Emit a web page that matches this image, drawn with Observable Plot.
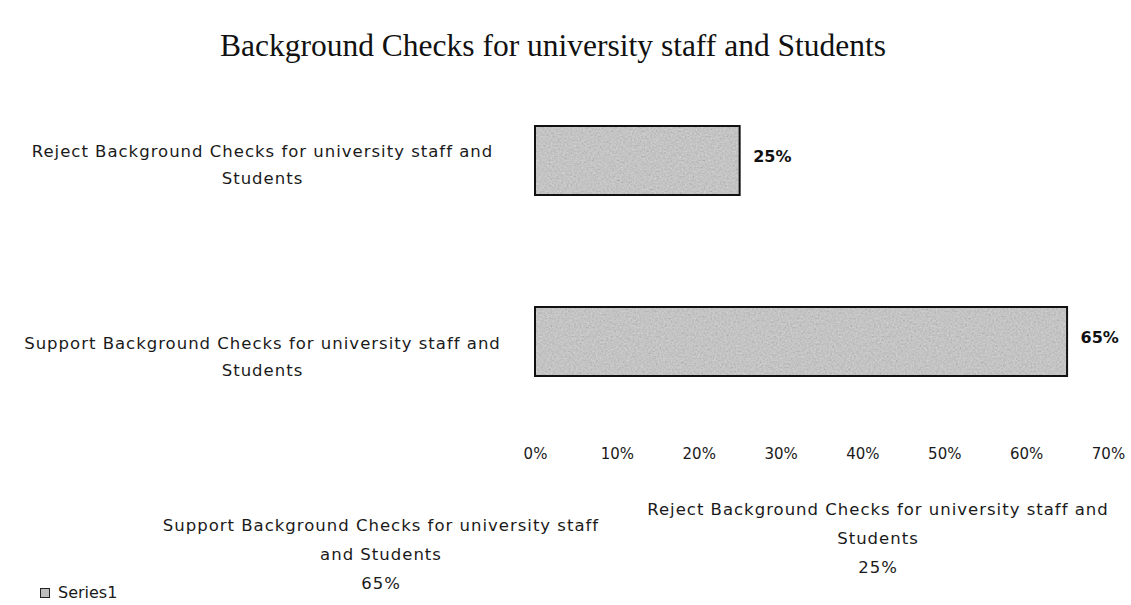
<!DOCTYPE html>
<html>
<head>
<meta charset="utf-8">
<script src="https://cdn.jsdelivr.net/npm/d3@7"></script>
<script src="https://cdn.jsdelivr.net/npm/@observablehq/plot@0.6"></script>
<style>
  html, body { margin: 0; padding: 0; background: #fff; }
  #wrap { position: relative; width: 1131px; height: 605px; overflow: hidden; font-family: "DejaVu Sans", sans-serif; color: #1a1a1a; }
  #title { position: absolute; left: 0; top: 28px; width: 1106px; text-align: center; font-family: "Liberation Serif", "DejaVu Serif", serif; font-size: 31.5px; line-height: 36px; color: #111; }
  #chart { position: absolute; left: 0; top: 60px; }
  #chart g[aria-label="y-axis tick label"] text { letter-spacing: 1px; }
  .cap { position: absolute; text-align: center; font-size: 16.5px; letter-spacing: 1px; line-height: 29px; color: #1a1a1a; }
  #legend { position: absolute; left: 40px; top: 583px; font-size: 16px; line-height: 20px; display: flex; align-items: center; }
  #legend .sw { width: 8px; height: 8px; background: #bdbdbd; border: 1.5px solid #222; margin-right: 8px; }
</style>
</head>
<body>
<div id="wrap">
  <div id="title"></div>
  <div id="chart"></div>
  <div class="cap" id="capSupport" style="left:111px; top:511px; width:540px;"></div>
  <div class="cap" id="capReject" style="left:608px; top:495px; width:540px;"></div>
  <div id="legend"><span class="sw"></span><span id="legendText"></span></div>
</div>
<script>
// ---- data ----
const title = "Background Checks for university staff and Students";
const categories = [
  "Reject Background Checks for university staff and Students",
  "Support Background Checks for university staff and Students"
];
const yTickLabels = [
  "Reject Background Checks for university staff and\nStudents",
  "Support Background Checks for university staff and\nStudents"
];
const values = [25, 65];               // percent
const xTicks = [0, 10, 20, 30, 40, 50, 60, 70];
const xTickLabels = ["0%", "10%", "20%", "30%", "40%", "50%", "60%", "70%"];
const seriesName = "Series1";
const bottomLabels = [
  "Support Background Checks for university staff<br>and Students<br>65%",
  "Reject Background Checks for university staff and<br>Students<br>25%"
];

// ---- build ----
const data = categories.map((c, i) => ({category: c, value: values[i]}));
const yLabelMap = new Map(categories.map((c, i) => [c, yTickLabels[i]]));
const xLabelMap = new Map(xTicks.map((t, i) => [t, xTickLabels[i]]));

document.getElementById("title").textContent = title;
document.getElementById("capSupport").innerHTML = bottomLabels[0];
document.getElementById("capReject").innerHTML = bottomLabels[1];
document.getElementById("legendText").textContent = seriesName;

const yAxisStyle = {tickSize: 0, tickPadding: 0, textAnchor: "middle", dx: -273, tickFormat: d => yLabelMap.get(d), fontSize: 16.5, lineHeight: 1.6, label: null};

const chart = Plot.plot({
  width: 1131,
  height: 420,
  marginLeft: 535,
  marginRight: 23,
  marginTop: 11,
  marginBottom: 40,
  style: {fontFamily: "'DejaVu Sans', sans-serif", color: "#1a1a1a", background: "transparent"},
  x: {domain: [0, 70]},
  y: {domain: categories, paddingInner: 0.62, paddingOuter: 0.324, align: 0.46},
  marks: [
    Plot.barX(data, {x: "value", y: "category", fill: "url(#tex)", stroke: "#111", strokeWidth: 2}),
    Plot.text(data, {x: "value", y: "category", text: d => d.value + "%", dx: 13, dy: -4, textAnchor: "start", fontWeight: "bold", fontSize: 16, fill: "#111"}),
    Plot.axisX({ticks: xTicks, tickFormat: d => xLabelMap.get(d), tickSize: 0, tickPadding: 8, fontSize: 15, label: null}),
    Plot.axisY({...yAxisStyle, ticks: [categories[0]], dy: 1}),
    Plot.axisY({...yAxisStyle, ticks: [categories[1]], dy: 12})
  ]
});

// grainy grey fill like the scanned bars
const ns = "http://www.w3.org/2000/svg";
const defs = document.createElementNS(ns, "defs");
defs.innerHTML = `
  <filter id="noise" x="0" y="0" width="100%" height="100%">
    <feTurbulence type="fractalNoise" baseFrequency="0.55" numOctaves="2" seed="4"/>
    <feColorMatrix type="matrix" values="0.33 0.33 0.33 0 0  0.33 0.33 0.33 0 0  0.33 0.33 0.33 0 0  0 0 0 0 1"/>
  </filter>
  <pattern id="tex" patternUnits="userSpaceOnUse" width="300" height="300">
    <rect width="300" height="300" fill="#cbcbcb"/>
    <rect width="300" height="300" filter="url(#noise)" opacity="0.45"/>
  </pattern>`;
chart.insertBefore(defs, chart.firstChild);
document.getElementById("chart").appendChild(chart);
</script>
</body>
</html>
